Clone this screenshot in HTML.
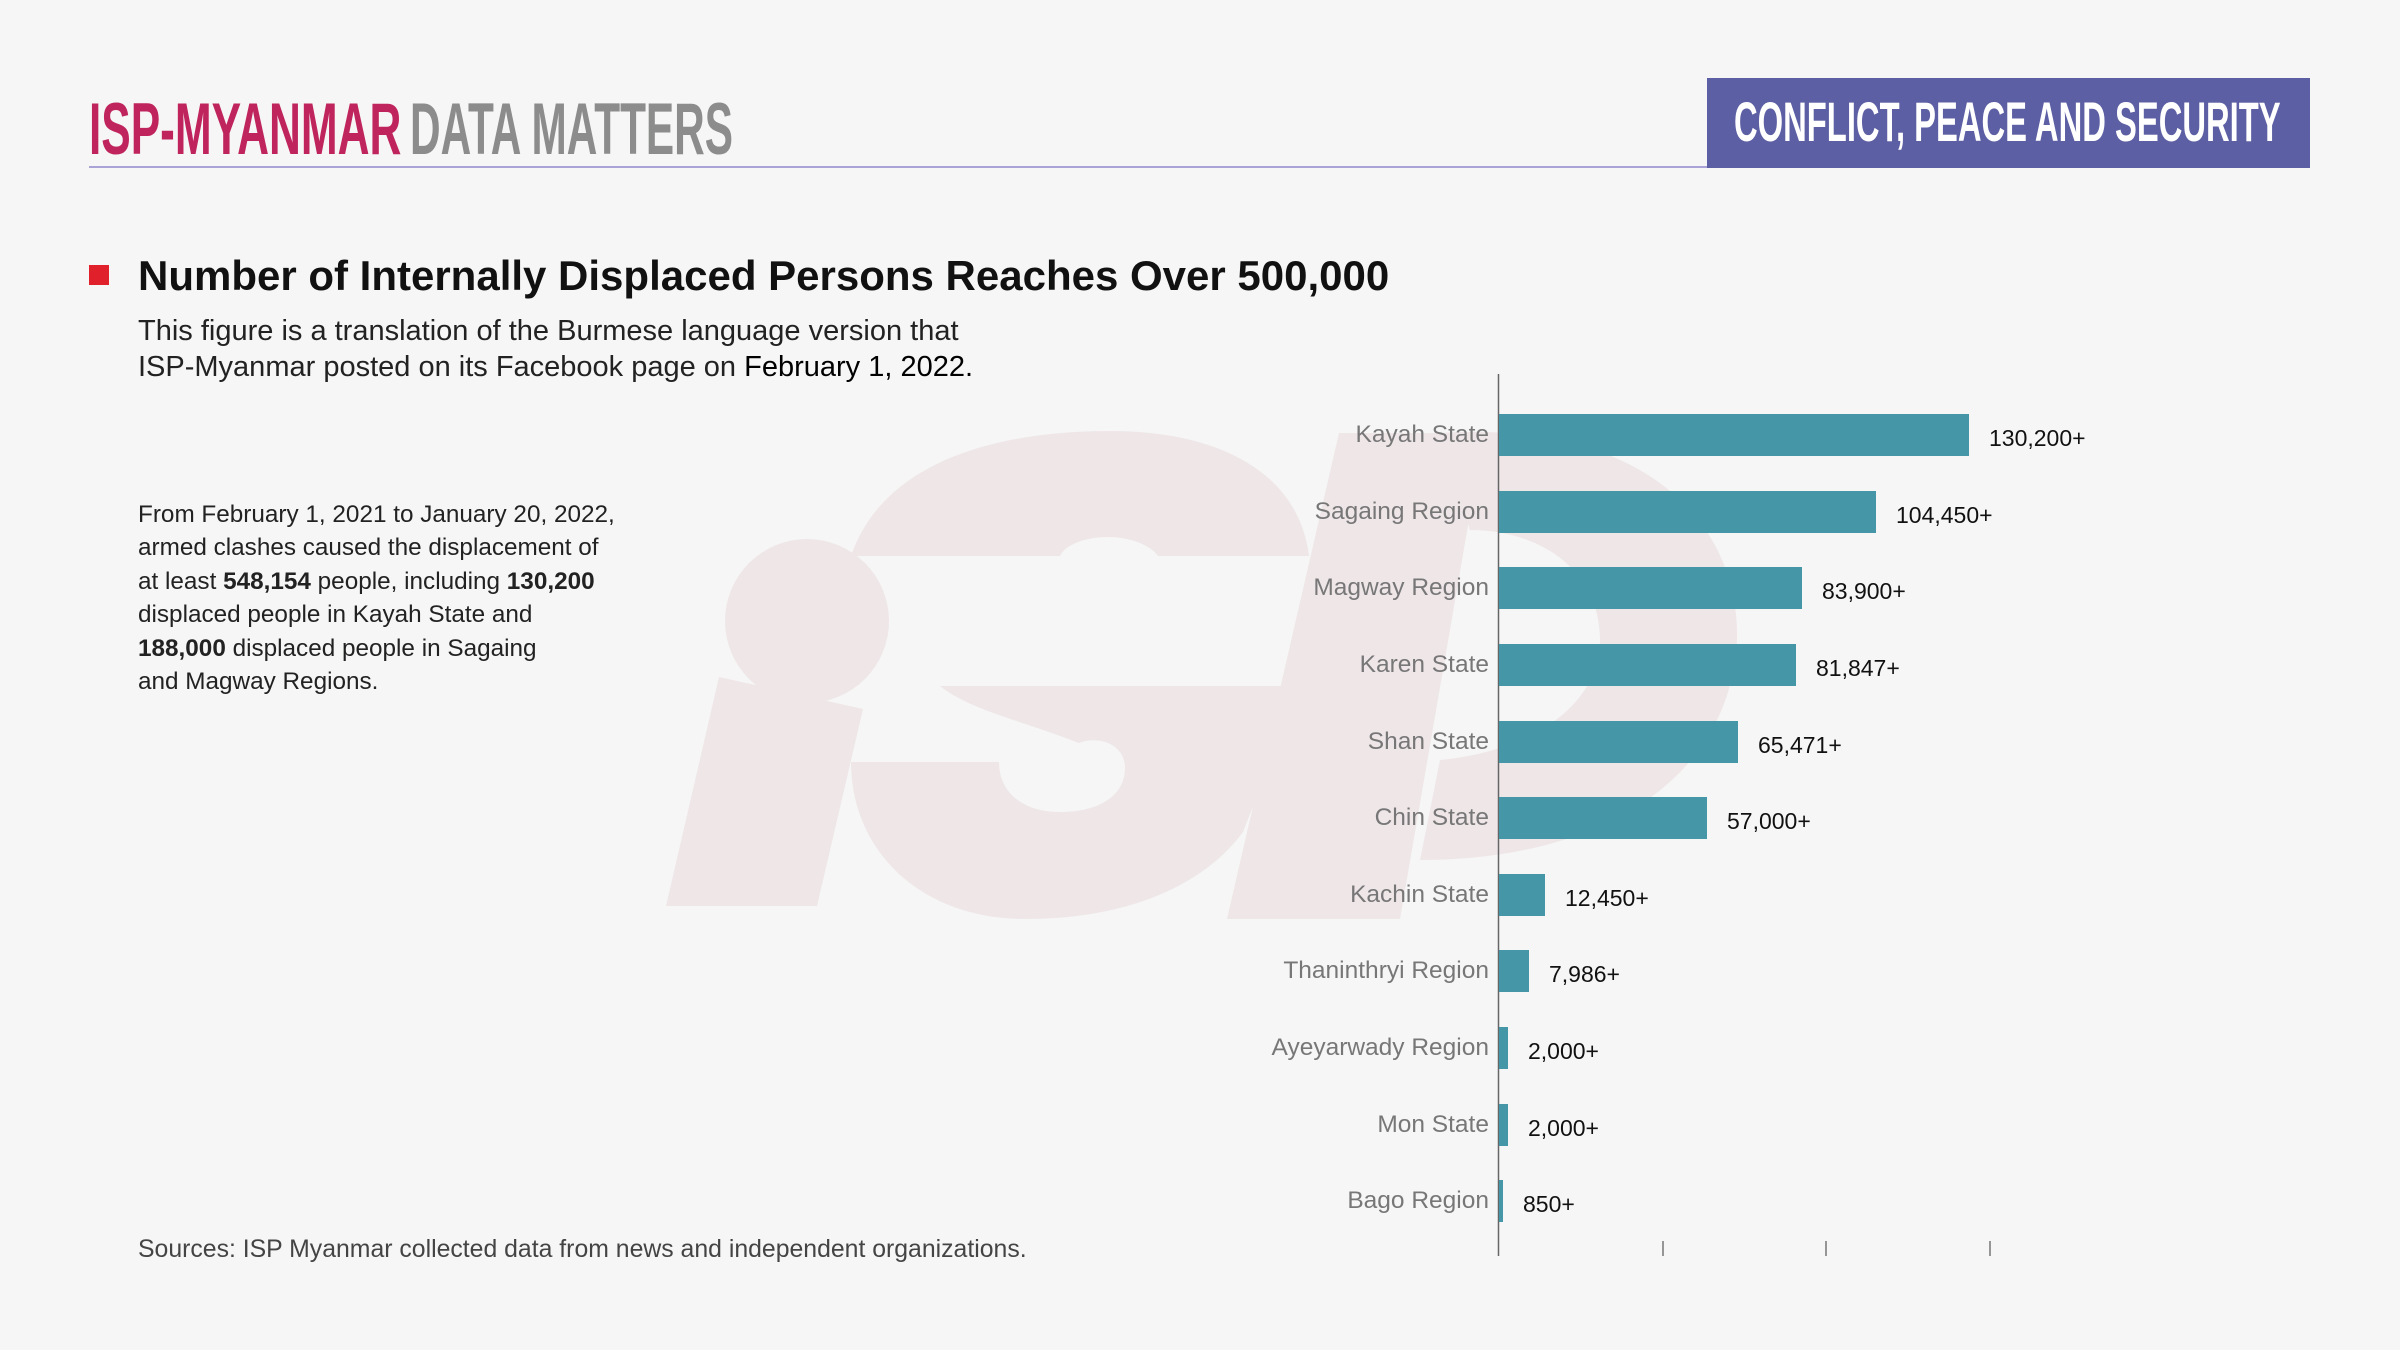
<!DOCTYPE html>
<html><head><meta charset="utf-8"><style>
*{margin:0;padding:0;box-sizing:border-box}
body{width:2400px;height:1350px;background:#f5f6f5;position:relative;overflow:hidden;font-family:"Liberation Sans",sans-serif}
.a{position:absolute;white-space:nowrap}
.cat{position:absolute;right:911px;font-size:24.5px;color:#777;line-height:30px;text-align:right}
.bar{position:absolute;left:1499px;height:42px;background:#4597a8}
.val{position:absolute;font-size:23px;color:#111;line-height:30px}
</style></head><body>
<svg class="a" style="left:0;top:0" width="2400" height="1350">
<g fill="#efe6e8">
<circle cx="807" cy="621" r="82"/>
<polygon points="719,677 863,709 817,906 666,906"/>
<path d="M851,556 C880,470 980,431 1110,431 C1230,431 1300,480 1309,556 L1158,556 C1150,545 1130,537 1108,537 C1085,537 1065,545 1060,556 Z"/>
<path d="M940,686 L1300,686 L1243,832 C1200,890 1120,919 1025,919 C920,919 851,850 851,762 L999,762 C999,790 1020,812 1060,812 C1100,812 1125,795 1125,768 C1125,745 1100,735 1079,743 C1020,720 970,710 940,686 Z"/>
<polygon points="1339,433 1484,433 1400,919 1227,919"/>
<path d="M1440,433 C1640,420 1740,520 1737,640 C1730,780 1600,860 1420,860 L1440,760 C1540,750 1600,700 1600,640 C1600,570 1540,530 1470,530 Z"/>
</g>
<line x1="1498.5" y1="374" x2="1498.5" y2="1256" stroke="#666" stroke-width="1.5"/>
<g stroke="#777" stroke-width="1.5">
<line x1="1663" y1="1241" x2="1663" y2="1256"/>
<line x1="1826" y1="1241" x2="1826" y2="1256"/>
<line x1="1990" y1="1241" x2="1990" y2="1256"/>
</g>
<line x1="89" y1="167" x2="1707" y2="167" stroke="#a9a3d6" stroke-width="2"/>
<rect x="1707" y="78" width="603" height="90" fill="#5c5fa3"/>
<rect x="89" y="265" width="20" height="20" fill="#e0202a"/>
</svg>
<div class="a" style="left:89px;top:93px;font-size:73px;font-weight:bold;line-height:73px;color:#c0245c;transform:scaleX(0.605);transform-origin:0 0">ISP-MYANMAR</div>
<div class="a" style="left:410px;top:93px;font-size:73px;font-weight:bold;line-height:73px;color:#8c8c8c;transform:scaleX(0.58);transform-origin:0 0">DATA MATTERS</div>
<div class="a" style="left:1734px;top:94px;font-size:56px;font-weight:bold;line-height:56px;color:#fff;transform:scaleX(0.585);transform-origin:0 0">CONFLICT, PEACE AND SECURITY</div>
<div class="a" style="left:138px;top:251px;font-size:42px;font-weight:bold;line-height:50px;color:#111">Number of Internally Displaced Persons Reaches Over 500,000</div>
<div class="a" style="left:138px;top:313px;font-size:29px;line-height:36px;color:#222">This figure is a translation of the Burmese language version that<br>ISP-Myanmar posted on its Facebook page on <span style="color:#000">February 1, 2022.</span></div>
<div class="a" style="left:138px;top:498px;font-size:24.3px;line-height:33.4px;color:#222">From February 1, 2021 to January 20, 2022,<br>armed clashes caused the displacement of<br>at least <b>548,154</b> people, including <b>130,200</b><br>displaced people in Kayah State and<br><b>188,000</b> displaced people in Sagaing<br>and Magway Regions.</div>
<div class="a" style="left:138px;top:1235px;font-size:24.8px;line-height:30px;color:#444">Sources: ISP Myanmar collected data from news and independent organizations.</div>

<div class="cat" style="top:420px">Kayah State</div><div class="bar" style="top:414px;width:470px"></div><div class="val" style="top:423px;left:1989px">130,200+</div>
<div class="cat" style="top:497px">Sagaing Region</div><div class="bar" style="top:491px;width:377px"></div><div class="val" style="top:500px;left:1896px">104,450+</div>
<div class="cat" style="top:573px">Magway Region</div><div class="bar" style="top:567px;width:303px"></div><div class="val" style="top:576px;left:1822px">83,900+</div>
<div class="cat" style="top:650px">Karen State</div><div class="bar" style="top:644px;width:297px"></div><div class="val" style="top:653px;left:1816px">81,847+</div>
<div class="cat" style="top:727px">Shan State</div><div class="bar" style="top:721px;width:239px"></div><div class="val" style="top:730px;left:1758px">65,471+</div>
<div class="cat" style="top:803px">Chin State</div><div class="bar" style="top:797px;width:208px"></div><div class="val" style="top:806px;left:1727px">57,000+</div>
<div class="cat" style="top:880px">Kachin State</div><div class="bar" style="top:874px;width:46px"></div><div class="val" style="top:883px;left:1565px">12,450+</div>
<div class="cat" style="top:956px">Thaninthryi Region</div><div class="bar" style="top:950px;width:30px"></div><div class="val" style="top:959px;left:1549px">7,986+</div>
<div class="cat" style="top:1033px">Ayeyarwady Region</div><div class="bar" style="top:1027px;width:9px"></div><div class="val" style="top:1036px;left:1528px">2,000+</div>
<div class="cat" style="top:1110px">Mon State</div><div class="bar" style="top:1104px;width:9px"></div><div class="val" style="top:1113px;left:1528px">2,000+</div>
<div class="cat" style="top:1186px">Bago Region</div><div class="bar" style="top:1180px;width:4px"></div><div class="val" style="top:1189px;left:1523px">850+</div>
</body></html>
